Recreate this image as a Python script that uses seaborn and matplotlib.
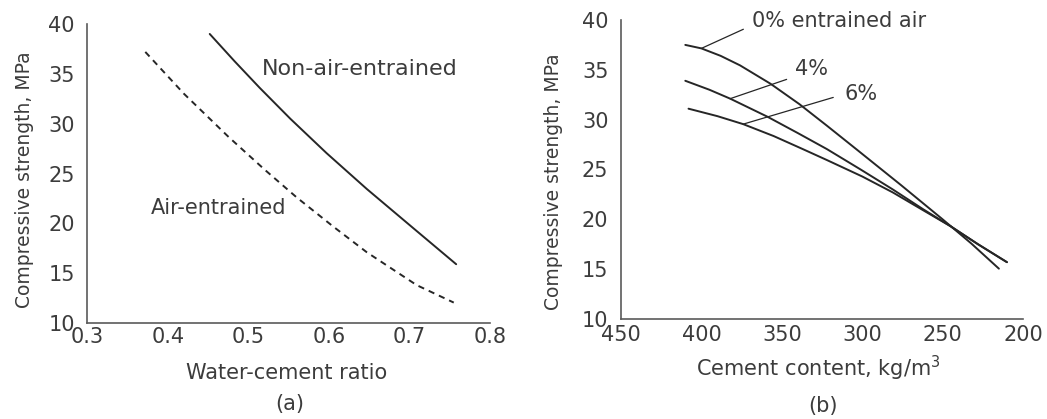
import matplotlib
matplotlib.use("Agg")
import matplotlib.pyplot as plt
import numpy as np
import pandas as pd
import seaborn as sns

# (a) strength vs water-cement ratio
wc_non_air = [0.452, 0.483, 0.514, 0.552, 0.597, 0.647, 0.705, 0.758]
fc_non_air = [39.0, 36.25, 33.6, 30.5, 27.05, 23.45, 19.5, 15.9]
wc_air = [0.372, 0.420, 0.475, 0.520, 0.560, 0.605, 0.647, 0.709, 0.755]
fc_air = [37.2, 33.0, 28.7, 25.4, 22.6, 19.7, 17.1, 13.8, 12.05]

# (b) strength vs cement content for three air contents
cem_0 = [410, 400, 388, 376, 357, 339, 322, 303, 276, 250, 232, 215]
fc_0 = [37.5, 37.15, 36.4, 35.45, 33.6, 31.55, 29.4, 26.95, 23.45, 20.0, 17.55, 15.05]
cem_4 = [410, 395, 382, 359, 340, 322, 301, 281, 262, 245, 228, 210]
fc_4 = [33.9, 33.0, 32.1, 30.3, 28.65, 27.05, 25.0, 23.0, 21.0, 19.3, 17.5, 15.7]
cem_6 = [408, 390, 374, 355, 337, 322, 300, 281, 262, 245, 228, 210]
fc_6 = [31.1, 30.35, 29.55, 28.35, 27.05, 25.95, 24.3, 22.7, 20.9, 19.3, 17.5, 15.7]

# leader lines: (curve point, label end)
leader_0 = ([400.0, 373.9], [37.15, 39.07])
leader_4 = ([382.2, 347.0], [32.1, 34.04])
leader_6 = ([374.0, 318.0], [29.55, 32.23])

y_ticks = [10, 15, 20, 25, 30, 35, 40]
x_ticks_a = [0.3, 0.4, 0.5, 0.6, 0.7, 0.8]
x_ticks_b = [450, 400, 350, 300, 250, 200]

sns.set_theme(style="white")
plt.rcParams["font.family"] = ["DejaVu Sans"]

INK = "#262626"
AXC = "#5a5a5a"
TXT = "#3c3c3c"
FS = 15

fig = plt.figure(figsize=(10.47, 4.19), dpi=100)
ax_a = fig.add_axes([0.0834, 0.2291, 0.3846, 0.7136])
ax_b = fig.add_axes([0.5931, 0.2387, 0.3840, 0.7136])


def style_axes(ax, xpad):
    for side in ("top", "right"):
        ax.spines[side].set_visible(False)
    for side in ("left", "bottom"):
        ax.spines[side].set_color(AXC)
        ax.spines[side].set_linewidth(1.2)
    ax.set_ylim(10, 40)
    ax.set_yticks(y_ticks)
    ax.set_yticklabels([str(v) for v in y_ticks])
    ax.tick_params(axis="y", direction="in", length=11, width=1.0, color=AXC,
                   pad=9, labelsize=FS, labelcolor=TXT)
    ax.tick_params(axis="x", direction="in", length=9.5, width=1.0, color=AXC,
                   pad=xpad, labelsize=FS, labelcolor=TXT)
    ax.grid(False)


# ---- panel (a)
sns.lineplot(x=wc_non_air, y=fc_non_air, ax=ax_a, color=INK, linewidth=1.4)
sns.lineplot(x=wc_air, y=fc_air, ax=ax_a, color=INK, linewidth=1.4,
             linestyle=(0, (3.2, 2.6)))
style_axes(ax_a, 3)
ax_a.set_xlim(0.3, 0.8)
ax_a.set_xticks(x_ticks_a)
ax_a.set_xticklabels([f"{v:.1f}" for v in x_ticks_a])
ax_a.text(0.5167, 35.5, "Non-air-entrained", fontsize=16, color=TXT,
          ha="left", va="center")
ax_a.text(0.379, 21.55, "Air-entrained", fontsize=FS, color=TXT,
          ha="left", va="center")
ax_a.set_xlabel("Water-cement ratio", fontsize=FS, color=TXT, va="center")
ax_a.xaxis.set_label_coords(0.496, -0.167)
ax_a.set_ylabel("Compressive strength, MPa", fontsize=13.5, color=TXT, va="center")
ax_a.yaxis.set_label_coords(-0.155, 0.478)
ax_a.text(0.503, -0.271, "(a)", transform=ax_a.transAxes, fontsize=FS,
          color=TXT, ha="center", va="center")

# ---- panel (b)
for xs, ys in ((cem_0, fc_0), (cem_4, fc_4), (cem_6, fc_6)):
    sns.lineplot(x=xs, y=ys, ax=ax_b, color=INK, linewidth=1.4)
for lx, ly in (leader_0, leader_4, leader_6):
    ax_b.plot(lx, ly, color=INK, linewidth=0.9)
style_axes(ax_b, 4.5)
ax_b.set_xlim(450, 200)
ax_b.set_xticks(x_ticks_b)
ax_b.set_xticklabels([str(v) for v in x_ticks_b])
ax_b.text(368.7, 39.93, "0% entrained air", fontsize=FS, color=TXT,
          ha="left", va="center")
ax_b.text(341.8, 35.08, "4%", fontsize=FS, color=TXT, ha="left", va="center")
ax_b.text(311.3, 32.56, "6%", fontsize=FS, color=TXT, ha="left", va="center")
ax_b.set_xlabel("Cement content, kg/m$^3$", fontsize=FS, color=TXT, va="center")
ax_b.xaxis.set_label_coords(0.49, -0.164)
ax_b.set_ylabel("Compressive strength, MPa", fontsize=13.5, color=TXT, va="center")
ax_b.yaxis.set_label_coords(-0.167, 0.46)
ax_b.text(0.502, -0.291, "(b)", transform=ax_b.transAxes, fontsize=FS,
          color=TXT, ha="center", va="center")

fig.savefig("out.png", dpi=100, facecolor="white")
